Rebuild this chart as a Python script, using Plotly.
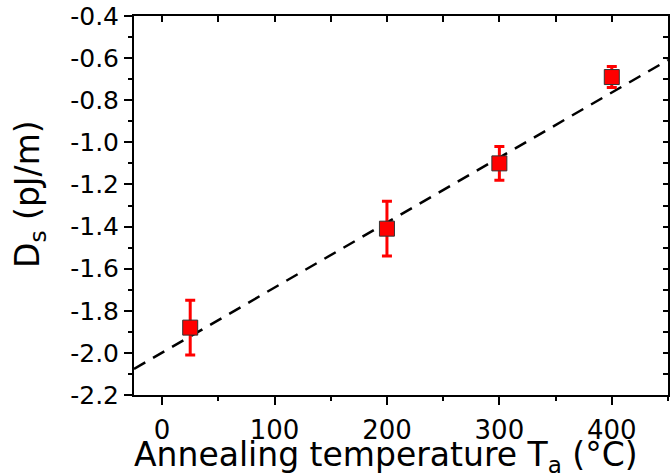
import plotly.graph_objects as go

# Annealing temperature (°C) and surface DMI values
temps = [25, 200, 300, 400]
ds_values = [-1.88, -1.41, -1.10, -0.69]
ds_errors = [0.13, 0.13, 0.08, 0.05]

# Linear fit line (end points)
fit_x = [-25, 450]
fit_y = [-2.076, -0.609]

# Tick labels (plain hyphen minus, as in the original)
y_tickvals = [-2.2, -2.0, -1.8, -1.6, -1.4, -1.2, -1.0, -0.8, -0.6, -0.4]
y_ticktext = ['-2.2', '-2.0', '-1.8', '-1.6', '-1.4', '-1.2', '-1.0', '-0.8', '-0.6', '-0.4']
x_tickvals = [0, 100, 200, 300, 400]

x_range = [-25, 450]
y_range = [-2.2, -0.4]

x_title = 'Annealing temperature T<sub>a</sub> (°C)'
y_title = 'D<sub>s</sub> (pJ/m)'

font_family = "DejaVu Sans, Liberation Sans, Arial, sans-serif"

fig = go.Figure()

# Dashed linear fit
fig.add_trace(go.Scatter(
    x=fit_x, y=fit_y,
    mode='lines',
    line=dict(color='black', width=2.5, dash='13px,9px'),
    showlegend=False,
))

# Data points with error bars
fig.add_trace(go.Scatter(
    x=temps, y=ds_values,
    mode='markers',
    marker=dict(symbol='square', size=15, color='red',
                line=dict(color='#333333', width=1)),
    error_y=dict(type='data', array=ds_errors, color='red',
                 thickness=3, width=5),
    showlegend=False,
))

# Invisible trace so the top/right frame axes get drawn
fig.add_trace(go.Scatter(
    x=x_range, y=y_range, xaxis='x2', yaxis='y2',
    mode='markers', marker=dict(opacity=0), hoverinfo='skip',
    showlegend=False,
))

fig.update_layout(
    width=671, height=474,
    margin=dict(l=134, r=3, t=16, b=79),
    plot_bgcolor='white',
    paper_bgcolor='white',
    xaxis=dict(
        range=x_range, tickvals=x_tickvals,
        showline=True, linecolor='black', linewidth=2,
        ticks='outside', ticklen=8, tickwidth=1.5, tickcolor='black',
        minor=dict(ticks='outside', dtick=50, tick0=0, ticklen=4,
                   tickcolor='black', tickwidth=1.5),
        showgrid=False, zeroline=False, automargin=False,
        ticklabelstandoff=3,
        tickfont=dict(family=font_family, size=26, color='black'),
    ),
    yaxis=dict(
        range=y_range, tickvals=y_tickvals, ticktext=y_ticktext,
        showline=True, linecolor='black', linewidth=2,
        ticks='outside', ticklen=8, tickwidth=1.5, tickcolor='black',
        minor=dict(ticks='outside', dtick=0.1, tick0=-2.2, ticklen=4,
                   tickcolor='black', tickwidth=1.5),
        showgrid=False, zeroline=False, automargin=False,
        tickfont=dict(family=font_family, size=25, color='black'),
    ),
    xaxis2=dict(
        overlaying='x', side='top', range=x_range,
        showline=True, linecolor='black', linewidth=2,
        ticks='inside', dtick=50, tick0=0, ticklen=6, tickwidth=1.5,
        tickcolor='black', showticklabels=False,
        showgrid=False, zeroline=False, automargin=False,
    ),
    yaxis2=dict(
        overlaying='y', side='right', range=y_range,
        showline=True, linecolor='black', linewidth=2,
        ticks='inside', dtick=0.1, tick0=-2.2, ticklen=5, tickwidth=1.5,
        tickcolor='black', showticklabels=False,
        showgrid=False, zeroline=False, automargin=False,
    ),
    annotations=[
        dict(text=x_title, xref='paper', yref='paper', x=0.472, y=-0.163,
             xanchor='center', yanchor='middle', showarrow=False,
             font=dict(family=font_family, size=33, color='black')),
        dict(text=y_title, xref='paper', yref='paper', x=-0.197, y=0.53,
             xanchor='center', yanchor='middle', showarrow=False, textangle=-90,
             font=dict(family=font_family, size=33, color='black')),
    ],
)

# drop the browser's default body margin so the figure sits at the page corner
fig.write_html("out.html", config={'displayModeBar': False},
               post_script="document.body.style.margin='0';")
